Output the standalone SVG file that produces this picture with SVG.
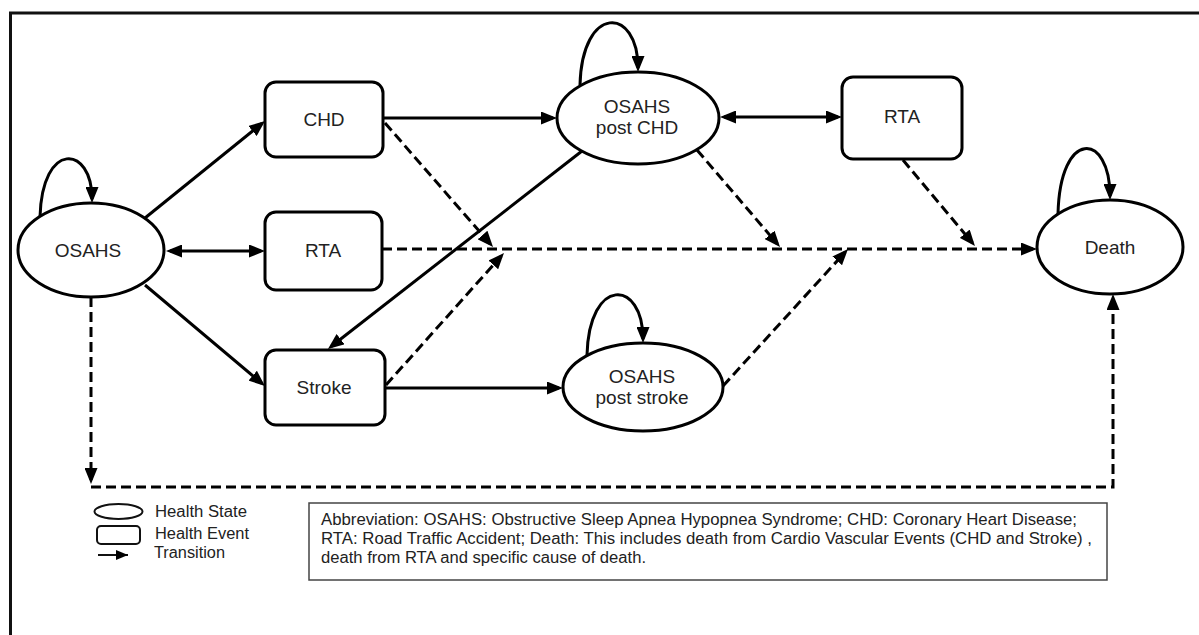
<svg xmlns="http://www.w3.org/2000/svg" width="1199" height="635" viewBox="0 0 1199 635">
<style>
.node{fill:#fff;stroke:#000;stroke-width:3}
.lbl{font-family:"Liberation Sans",Arial,sans-serif;font-size:19px;fill:#222;text-anchor:middle}
.c{fill:none;stroke:#000;stroke-width:3}
.d{fill:none;stroke:#000;stroke-width:3;stroke-dasharray:10 5}
.a{marker-end:url(#ah)}
.b{marker-start:url(#ah);marker-end:url(#ah)}
.leg{font-family:"Liberation Sans",Arial,sans-serif;font-size:16px;fill:#222}
</style>
<defs>
<marker id="ah" viewBox="0 0 16 13" refX="12" refY="6.5" markerWidth="16" markerHeight="13" markerUnits="userSpaceOnUse" orient="auto-start-reverse">
<path d="M0,0 L16,6.5 L0,13 z" fill="#000"/>
</marker>
<marker id="ahs" viewBox="0 0 12 10" refX="12" refY="5" markerWidth="12" markerHeight="10" markerUnits="userSpaceOnUse" orient="auto">
<path d="M0,0 L12,5 L0,10 z" fill="#000"/>
</marker>
</defs>
<rect width="1199" height="635" fill="#fff"/>
<path d="M10.5,635 V13 H1199" fill="none" stroke="#111" stroke-width="3"/>

<g id="connectors">
<path class="c a" d="M40,217 C42,140 92,145 92,199"/>
<path class="c a" d="M580,85 C582,4 638,6 638,68"/>
<path class="c a" d="M1058,214 C1060,128 1110,132 1110,196"/>
<path class="c a" d="M587,355 C589,276 643,279 643,339"/>
<path class="c a" d="M145,218 L261.9,123.5"/>
<path class="c b" d="M170,251 L261,251"/>
<path class="c a" d="M145,285 L261.9,383.4"/>
<path class="c a" d="M383,118 L553,118"/>
<path class="d a" d="M385,123 L490.4,244"/>
<path class="d a" d="M382,249 L1033,249"/>
<path class="c a" d="M582,151 L331.1,346.5"/>
<path class="d a" d="M386,385 L501.3,256"/>
<path class="c a" d="M385,388 L559,388"/>
<path class="d a" d="M697,150 L777.4,244"/>
<path class="c b" d="M724,117 L838,117"/>
<path class="d a" d="M903,160 L972.4,242.9"/>
<path class="d a" d="M723,386 L845.3,252"/>
<path class="d a" d="M91,297 L91,480"/>
<path class="d a" d="M91,487 H1113 V298"/>
</g>

<g id="osahs"><ellipse class="node" cx="91" cy="250" rx="73" ry="47"/><text class="lbl" x="88" y="257">OSAHS</text></g>
<g id="chd"><rect class="node" x="265" y="82" width="118" height="75" rx="11"/><text class="lbl" x="324" y="126">CHD</text></g>
<g id="rta1"><rect class="node" x="265" y="212" width="117" height="78" rx="11"/><text class="lbl" x="323" y="257">RTA</text></g>
<g id="stroke"><rect class="node" x="265" y="350" width="120" height="75" rx="11"/><text class="lbl" x="324" y="394">Stroke</text></g>
<g id="postchd"><ellipse class="node" cx="638" cy="118" rx="81" ry="46"/><text class="lbl" x="637" y="113">OSAHS</text><text class="lbl" x="637" y="134">post CHD</text></g>
<g id="rta2"><rect class="node" x="842" y="77" width="120" height="82" rx="11"/><text class="lbl" x="902" y="123">RTA</text></g>
<g id="death"><ellipse class="node" cx="1110" cy="247" rx="73" ry="47"/><text class="lbl" x="1110" y="254">Death</text></g>
<g id="poststroke"><ellipse class="node" cx="643" cy="387" rx="80" ry="44"/><text class="lbl" x="642" y="383">OSAHS</text><text class="lbl" x="642" y="404">post stroke</text></g>

<g id="legend">
<ellipse cx="118.5" cy="511.5" rx="24" ry="7.5" fill="none" stroke="#111" stroke-width="2"/>
<rect x="97" y="526" width="43" height="18" rx="4" fill="none" stroke="#111" stroke-width="2"/>
<path d="M98,555 H128" stroke="#111" stroke-width="2" marker-end="url(#ahs)"/>
<text class="leg" x="155" y="517" textLength="92" lengthAdjust="spacingAndGlyphs">Health State</text>
<text class="leg" x="155" y="539" textLength="94" lengthAdjust="spacingAndGlyphs">Health Event</text>
<text class="leg" x="154" y="558" textLength="71" lengthAdjust="spacingAndGlyphs">Transition</text>
</g>

<g id="abbrev">
<rect x="309" y="503" width="798" height="77" fill="#fff" stroke="#444" stroke-width="1.5"/>
<text class="leg" x="321" y="525" textLength="756" lengthAdjust="spacingAndGlyphs">Abbreviation: OSAHS: Obstructive Sleep Apnea Hypopnea Syndrome; CHD: Coronary Heart Disease;</text>
<text class="leg" x="321" y="544" textLength="771" lengthAdjust="spacingAndGlyphs">RTA: Road Traffic Accident; Death: This includes death from Cardio Vascular Events (CHD and Stroke) ,</text>
<text class="leg" x="321" y="563" textLength="325" lengthAdjust="spacingAndGlyphs">death from RTA and specific cause of death.</text>
</g>
</svg>
